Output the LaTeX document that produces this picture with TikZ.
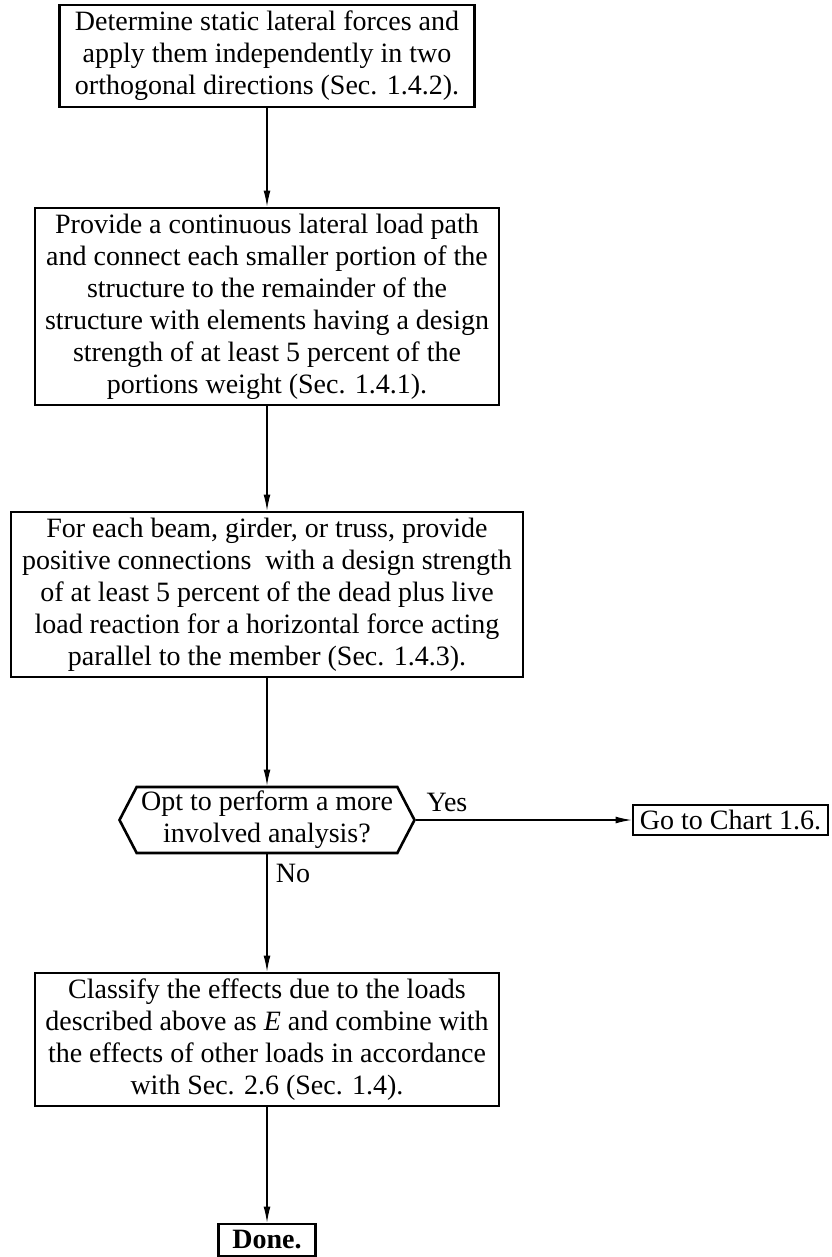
\documentclass[tikz,border=0pt]{standalone}
\usepackage{fontspec}
\setmainfont{Liberation Serif}
\usepackage{tikz}
\usetikzlibrary{arrows.meta,shapes.symbols}

\begin{document}
\begin{tikzpicture}[x=0.5pt,y=-0.5pt,
    every node/.style={font=\fontsize{14}{16}\selectfont, align=center, inner sep=1pt},
    stepbox/.style={draw, line width=1.3pt},
    flow/.style={line width=0.6pt, -{Latex[length=8pt,width=3.4pt]}}]
    \useasboundingbox (0,0) rectangle (831,1257);
    \node[stepbox, minimum width=207.5pt, minimum height=51pt] (lateral) at (267,56)
        {Determine static lateral forces and\\ apply them independently in two\\ orthogonal directions (Sec. 1.4.2).};
    \node[stepbox, minimum width=232pt, minimum height=98.5pt] (loadpath) at (267,306.5)
        {Provide a continuous lateral load path\\ and connect each smaller portion of the\\ structure to the remainder of the\\ structure with elements having a design\\ strength of at least 5 percent of the\\ portions weight (Sec. 1.4.1).};
    \node[stepbox, minimum width=256pt, minimum height=82.5pt] (members) at (267,594.5)
        {For each beam, girder, or truss, provide\\ positive connections\ \ with a design strength\\ of at least 5 percent of the dead plus live\\ load reaction for a horizontal force acting\\ parallel to the member (Sec. 1.4.3).};
    \node[stepbox, signal, signal to=west and east, signal pointer angle=125,
        minimum width=147.5pt, minimum height=33pt] (opt) at (267,820)
        {Opt to perform a more\\ involved analysis?};
    \node[stepbox, minimum width=97.5pt, minimum height=15pt] (chart) at (730.5,820) {Go to Chart 1.6.};
    \node[stepbox, minimum width=232pt, minimum height=66.5pt] (classify) at (267,1039.5)
        {Classify the effects due to the loads\\ described above as \textit{E} and combine with\\ the effects of other loads in accordance\\ with Sec. 2.6 (Sec. 1.4).};
    \node[stepbox, minimum width=48.5pt, minimum height=16pt,
        font=\fontsize{14}{16}\selectfont\bfseries] (done) at (267,1240) {Done.};
    % branch labels
    \node (yes) at (447,802) {Yes};
    \node (no) at (293,873) {No};

    \draw[flow] (lateral.south) -- (loadpath.north);
    \draw[flow] (loadpath.south) -- (members.north);
    \draw[flow] (members.south) -- (opt.north);
    \draw[flow] (opt.east) -- (chart.west);
    \draw[flow] (opt.south) -- (classify.north);
    \draw[flow] (classify.south) -- (done.north);
\end{tikzpicture}
\end{document}
